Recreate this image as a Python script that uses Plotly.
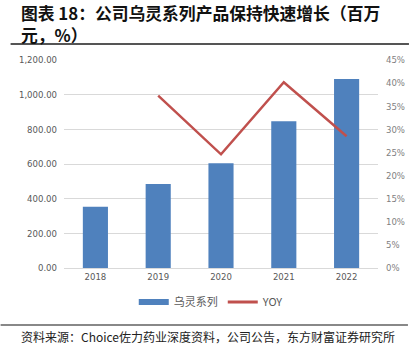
import plotly.graph_objects as go

years = ["2018", "2019", "2020", "2021", "2022"]
sales = [354, 485, 604, 846, 1090]          # 乌灵系列 (百万元)
yoy_years = ["2019", "2020", "2021", "2022"]
yoy = [37.3, 24.6, 40.2, 28.5]              # YOY (%)
left_ticks = [0, 200, 400, 600, 800, 1000, 1200]
right_ticks = [0, 5, 10, 15, 20, 25, 30, 35, 40, 45]
right_labels = ["0%", "5%", "10%", "15%", "20%", "25%", "30%", "35%", "40%", "45%"]

BLUE = "#4f81bd"
RED = "#c0504d"
GRAY = "#595959"
NARROW = "Liberation Sans Narrow, Arial Narrow, DejaVu Sans Condensed, sans-serif"
CJK = "Noto Sans CJK SC, sans-serif"

L, R, T, B = 63.5, 39, 60, 91
W, H = 417, 359
PW = W - L - R
PH = H - T - B


def px_x(x):
    return (x - L) / PW


def px_y(y):
    return (H - B - y) / PH


fig = go.Figure()
fig.add_trace(go.Bar(x=years, y=sales, marker=dict(color=BLUE, line=dict(width=0)),
                     showlegend=False, name="乌灵系列"))
fig.add_trace(go.Scatter(x=yoy_years, y=yoy, yaxis="y2", mode="lines",
                         line=dict(color=RED, width=2.5), name="YOY", showlegend=False))
# legend entries
fig.add_trace(go.Scatter(x=[None], y=[None], mode="lines", line=dict(color=BLUE, width=6),
                         name="乌灵系列"))
fig.add_trace(go.Scatter(x=[None], y=[None], mode="lines", line=dict(color=RED, width=3),
                         name="YOY", yaxis="y2"))

fig.update_layout(
    width=W, height=H,
    margin=dict(l=L, r=R, t=T, b=B, autoexpand=False),
    paper_bgcolor="white", plot_bgcolor="white",
    bargap=0.6,
    xaxis=dict(type="category", showgrid=False, showline=True, linecolor="#d9d9d9",
               linewidth=1, ticks="", automargin=False,
               tickfont=dict(family=NARROW, size=9.5, color=GRAY)),
    yaxis=dict(range=[0, 1200], tickvals=left_ticks, tickformat=",.2f",
               showgrid=True, gridcolor="#d9d9d9", gridwidth=1, zeroline=False,
               ticks="", ticklabelstandoff=6, automargin=False,
               tickfont=dict(family=NARROW, size=9.5, color=GRAY)),
    yaxis2=dict(range=[0, 45], tickvals=right_ticks, ticktext=right_labels,
                overlaying="y", side="right", showgrid=False, zeroline=False,
                ticks="", ticklabelstandoff=7, automargin=False,
                tickfont=dict(family=NARROW, size=9.5, color="#7f7f7f")),
    legend=dict(orientation="h", x=px_x(211), xanchor="center", y=px_y(302), yanchor="middle",
                font=dict(family=CJK, size=11, color=GRAY), itemwidth=30,
                bgcolor="rgba(0,0,0,0)"),
    font=dict(family=CJK),
)

fig.add_annotation(text="<b>图表 18：公司乌灵系列产品保持快速增长（百万<br>元，%）</b>",
                   xref="paper", yref="paper", align="left",
                   x=px_x(19), xanchor="left", y=px_y(23.5), yanchor="middle", showarrow=False,
                   borderpad=0, font=dict(family=CJK, size=16.8, color="#111111"))
fig.add_annotation(text="资料来源：Choice佐力药业深度资料，公司公告，东方财富证券研究所",
                   xref="paper", yref="paper",
                   x=px_x(19), xanchor="left", y=px_y(336), yanchor="middle", showarrow=False,
                   borderpad=0, font=dict(family=CJK, size=12, color="#222222"))

fig.add_shape(type="line", xref="paper", yref="paper",
              x0=px_x(10), x1=px_x(409), y0=px_y(44), y1=px_y(44),
              line=dict(color="#555555", width=2))
fig.add_shape(type="line", xref="paper", yref="paper",
              x0=px_x(0), x1=px_x(408), y0=px_y(325), y1=px_y(325),
              line=dict(color="#888888", width=2))

fig.write_html(
    "out.html",
    config={"displayModeBar": False},
    post_script="document.documentElement.style.margin='0';document.body.style.margin='0';"
                "document.documentElement.style.overflow='hidden';document.body.style.overflow='hidden';",
)
